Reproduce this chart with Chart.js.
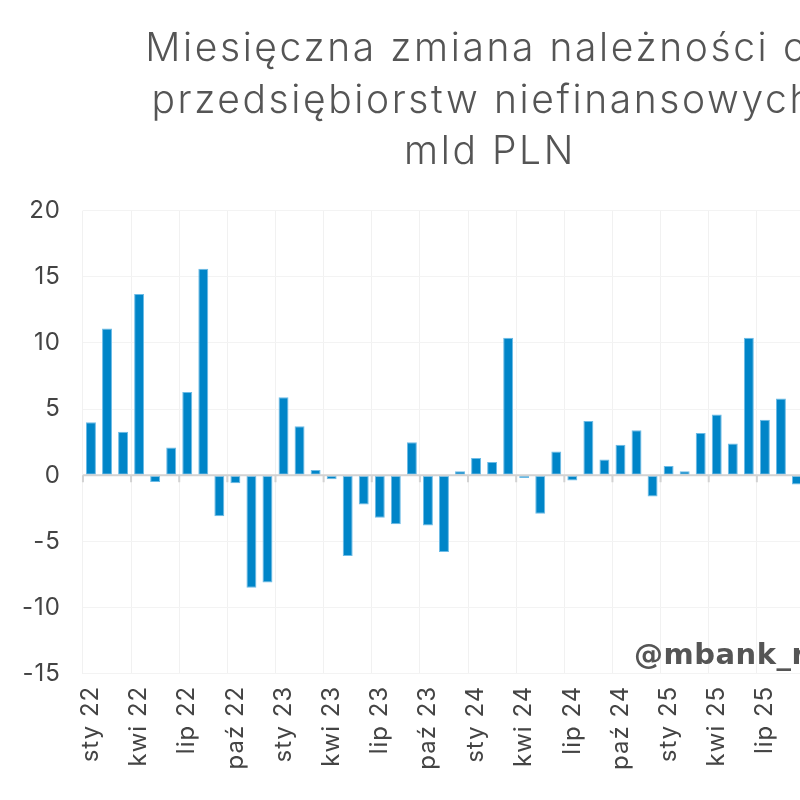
<!DOCTYPE html>
<html>
<head>
<meta charset="utf-8">
<script src="https://cdn.jsdelivr.net/npm/chart.js@4.4.1/dist/chart.umd.min.js"></script>
<style>
  html, body { margin: 0; padding: 0; background: #fff; overflow: hidden; }
  #wrap { width: 980px; height: 800px; }
</style>
</head>
<body>
<div id="wrap"><canvas id="chart" width="980" height="800"></canvas></div>
<script>
// monthly change, bn PLN
const months = [
    'sty 22', 'lut 22', 'mar 22', 'kwi 22', 'maj 22', 'cze 22', 'lip 22', 'sie 22', 'wrz 22', 'paź 22', 'lis 22', 'gru 22',
    'sty 23', 'lut 23', 'mar 23', 'kwi 23', 'maj 23', 'cze 23', 'lip 23', 'sie 23', 'wrz 23', 'paź 23', 'lis 23', 'gru 23',
    'sty 24', 'lut 24', 'mar 24', 'kwi 24', 'maj 24', 'cze 24', 'lip 24', 'sie 24', 'wrz 24', 'paź 24', 'lis 24', 'gru 24',
    'sty 25', 'lut 25', 'mar 25', 'kwi 25', 'maj 25', 'cze 25', 'lip 25', 'sie 25', 'wrz 25'
];
const changes = [
    4.0, 11.1, 3.3, 13.7, -0.5, 2.1, 6.3, 15.6, -3.1, -0.6, -8.5, -8.1,
    5.9, 3.7, 0.4, -0.3, -6.1, -2.2, -3.2, -3.7, 2.5, -3.8, -5.8, 0.3,
    1.3, 1.0, 10.4, -0.2, -2.9, 1.8, -0.4, 4.1, 1.2, 2.3, 3.4, -1.6,
    0.7, 0.3, 3.2, 4.6, 2.4, 10.4, 4.2, 5.8, -0.7
];
const titleLines = ['Miesięczna zmiana należności od', 'przedsiębiorstw niefinansowych,', 'mld PLN'];

const FONT = "Inter, 'Open Sans', sans-serif";

// wider letter spacing, the original font is a lot wider than Inter
const spacing = {
    id: 'spacing',
    beforeUpdate(chart) { chart.ctx.letterSpacing = '1px'; },
    beforeDraw(chart) {
        chart.ctx.letterSpacing = '1px';
        const tb = chart.titleBlock;
        if (tb && !tb._wide) {
            const orig = tb.draw.bind(tb);
            tb.draw = function () {
                chart.ctx.save();
                chart.ctx.letterSpacing = '2.6px';
                orig();
                chart.ctx.restore();
            };
            tb._wide = true;
        }
    }
};

// grey zero line with small ticks every quarter + watermark
const zeroLine = {
    id: 'zeroLine',
    afterDatasetsDraw(chart) {
        const { ctx, chartArea, scales } = chart;
        const y0 = scales.y.getPixelForValue(0);
        const step = (chartArea.right - chartArea.left) / months.length;
        ctx.save();
        ctx.strokeStyle = '#d2d2d2';
        ctx.lineWidth = 2;
        ctx.beginPath();
        ctx.moveTo(chartArea.left, y0);
        ctx.lineTo(chartArea.right, y0);
        for (let i = 0; i <= months.length; i += 3) {
            const x = chartArea.left + i * step;
            ctx.moveTo(x, y0);
            ctx.lineTo(x, y0 + 7);
        }
        ctx.stroke();
        ctx.letterSpacing = '0.5px';
        ctx.fillStyle = '#555';
        ctx.font = "bold 29px 'DejaVu Sans'";
        ctx.textBaseline = 'alphabetic';
        ctx.fillText('@mbank_research', chartArea.left + 551, 664);
        ctx.restore();
    }
};

new Chart(document.getElementById('chart').getContext('2d'), {
    type: 'bar',
    data: {
        labels: months,
        datasets: [{
            data: changes,
            backgroundColor: '#0085c8',
            borderColor: '#6cbbe6',
            borderWidth: 1,
            borderSkipped: false,
            categoryPercentage: 1,
            barPercentage: 0.62
        }]
    },
    options: {
        responsive: false,
        animation: false,
        layout: { padding: { left: 0, right: 0, bottom: 18 } },
        plugins: {
            legend: { display: false },
            tooltip: { enabled: false },
            title: {
                display: true,
                text: titleLines,
                color: '#555',
                font: { family: FONT, size: 39, weight: 300, lineHeight: 1.33 },
                padding: { top: 23, bottom: 32 }
            }
        },
        scales: {
            x: {
                grid: {
                    offset: true,
                    drawTicks: false,
                    color: c => (c.index % 3 === 0 ? '#f1f1f1' : 'rgba(0,0,0,0)')
                },
                border: { display: false },
                ticks: {
                    autoSkip: false,
                    maxRotation: 90,
                    minRotation: 90,
                    padding: 12,
                    color: '#444',
                    font: { family: FONT, size: 24 },
                    callback: (v, i) => (i % 3 === 0 ? months[i] : '')
                }
            },
            y: {
                min: -15,
                max: 20,
                grid: { color: '#f3f3f3', drawTicks: false },
                border: { display: false },
                ticks: {
                    stepSize: 5,
                    padding: 22,
                    color: '#444',
                    font: { family: FONT, size: 24 }
                }
            },
            // empty right axis: the reference is cut off, the plot continues past the picture
            yRight: {
                position: 'right',
                grid: { display: false },
                border: { display: false },
                ticks: { display: false },
                afterFit: s => { s.width = 175; }
            }
        }
    },
    plugins: [spacing, zeroLine]
});
</script>
</body>
</html>
